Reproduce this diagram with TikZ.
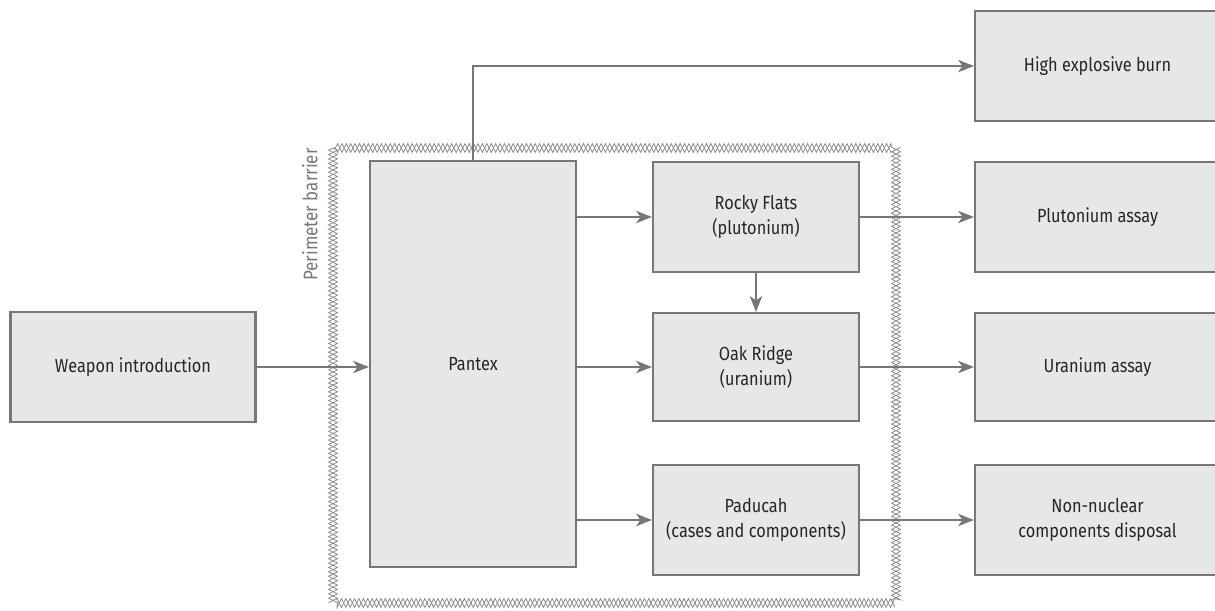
\documentclass[tikz,border=0pt]{standalone}
\usepackage{fontspec}
\setmainfont[FakeStretch=0.86]{Fira Sans}
\usetikzlibrary{arrows.meta,decorations.pathmorphing}
\definecolor{boxfill}{HTML}{E6E7E8}
\definecolor{boxline}{HTML}{777777}
\begin{document}
\begin{tikzpicture}[x=0.02cm, y=-0.02cm,
        block/.style={draw=boxline, fill=boxfill, line width=1.2pt, minimum width=4.12cm, minimum height=2.2cm, align=center, inner sep=0pt, font=\fontsize{10.8}{14}\selectfont, text=black!85},
        flow/.style={draw=boxline, line width=1.2pt, -{Stealth[length=9pt, width=7pt, inset=2.5pt]}},
        barrier/.style={draw=boxline!85, line width=0.45pt, decorate, decoration={zigzag, segment length=5pt, amplitude=2.5pt}}]
    \useasboundingbox (0,0) rectangle (1215,611);
    % perimeter
    \draw[barrier] (333,148) rectangle (896,603);
    \draw[barrier, decoration={mirror}] (333,148) rectangle (896,603);
    \node[rotate=90, anchor=south east, text=boxline, font=\fontsize{11.2}{14}\selectfont, inner sep=0pt] (perimeter) at (318,148) {Perimeter barrier};
    % boxes
    \node[block, minimum width=4.9cm] (weapon) at (133,367) {Weapon introduction};
    \node[block, minimum width=4.12cm, minimum height=8.12cm] (pantex) at (473,364) {Pantex};
    \node[block] (rocky) at (756,217) {Rocky Flats\\(plutonium)};
    \node[block, minimum height=2.16cm] (oak) at (756,367) {Oak Ridge\\(uranium)};
    \node[block] (paducah) at (756,520) {Paducah\\(cases and components)};
    \node[block, minimum width=4.9cm, anchor=west] (burn) at (974,66) {High explosive burn};
    \node[block, minimum width=4.9cm, anchor=west] (pluassay) at (974,217) {Plutonium assay};
    \node[block, minimum width=4.9cm, minimum height=2.16cm, anchor=west] (uraassay) at (974,367) {Uranium assay};
    \node[block, minimum width=4.9cm, anchor=west] (disposal) at (974,520) {Non-nuclear\\components disposal};
    % connectors
    \draw[flow] (weapon) -- (weapon -| pantex.west);
    \draw[flow] (rocky -| pantex.east) -- (rocky);
    \draw[flow] (oak -| pantex.east) -- (oak);
    \draw[flow] (paducah -| pantex.east) -- (paducah);
    \draw[flow] (rocky) -- (oak);
    \draw[flow] (rocky) -- (pluassay);
    \draw[flow] (oak) -- (uraassay);
    \draw[flow] (paducah) -- (disposal);
    \draw[flow] (pantex.north) |- (burn.west);
\end{tikzpicture}
\end{document}
